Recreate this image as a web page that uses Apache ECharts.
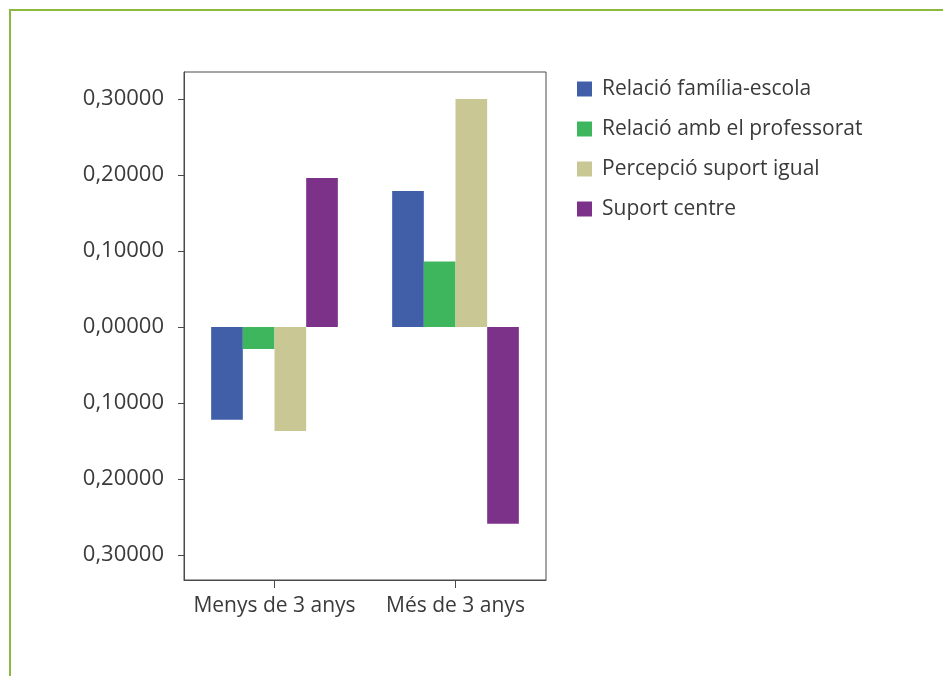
<!DOCTYPE html>
<html>
<head>
<meta charset="utf-8">
<script src="https://cdn.jsdelivr.net/npm/echarts@6/dist/echarts.min.js"></script>
<style>
  html, body { margin: 0; padding: 0; background: #fff; }
  #frame { position: absolute; left: 9px; top: 9px; width: 934px; height: 667px;
           border-top: 2px solid #8bb83e; border-left: 2px solid #8bb83e; }
  #chart { position: absolute; left: 0; top: 0; width: 943px; height: 676px; }
</style>
</head>
<body>
<div id="frame"></div>
<div id="chart"></div>
<script>
// categories
const categories = ["Menys de 3 anys", "Més de 3 anys"];
// series
const seriesNames = ["Relació família-escola", "Relació amb el professorat", "Percepció suport igual", "Suport centre"];
const familiaEscola = [-0.122, 0.179];
const professorat = [-0.029, 0.086];
const suportIgual = [-0.137, 0.300];
const suportCentre = [0.196, -0.259];
// eix Y
const yTicks = [-0.3, -0.2, -0.1, 0, 0.1, 0.2, 0.3];

const colors = ["#415ea8", "#3db65e", "#c9c894", "#7d328a"];
const values = [familiaEscola, professorat, suportIgual, suportCentre];

const myChart = echarts.init(document.getElementById("chart"));
const font = "'Open Sans', 'Noto Sans', sans-serif";

const option = {
  animation: false,
  color: colors,
  textStyle: { fontFamily: font },
  grid: {
    left: 184, right: 397, top: 72, bottom: 96,
    show: true, borderColor: "#4a4a4a", borderWidth: 1, backgroundColor: "transparent"
  },
  legend: {
    orient: "vertical",
    left: 577, top: 78,
    padding: 0,
    icon: "rect",
    itemWidth: 15, itemHeight: 15,
    itemGap: 18,
    textStyle: { fontSize: 21, color: "#3a3a3a", fontFamily: font, lineHeight: 22, padding: [0, 0, 0, 5] },
    data: seriesNames
  },
  xAxis: {
    type: "category",
    data: categories,
    axisLine: { onZero: false, lineStyle: { color: "#4a4a4a" } },
    axisTick: { show: true, alignWithLabel: true, length: 8, lineStyle: { color: "#4a4a4a" } },
    axisLabel: { interval: 0, fontSize: 21, color: "#3a3a3a", margin: 16, fontFamily: font }
  },
  yAxis: {
    type: "value",
    min: -0.333, max: 0.3355,
    splitLine: { show: false },
    axisLine: { show: true, lineStyle: { color: "#4a4a4a" } },
    axisTick: { show: true, length: 6, customValues: yTicks, lineStyle: { color: "#4a4a4a" } },
    axisLabel: {
      customValues: yTicks,
      fontSize: 22, color: "#3a3a3a", margin: 20, fontFamily: font,
      formatter: v => Math.abs(v).toFixed(5).replace(".", ",")
    }
  },
  series: seriesNames.map((name, i) => ({
    name: name,
    type: "bar",
    data: values[i],
    barGap: "0%",
    barCategoryGap: "30%"
  }))
};

option && myChart.setOption(option);
</script>
</body>
</html>
